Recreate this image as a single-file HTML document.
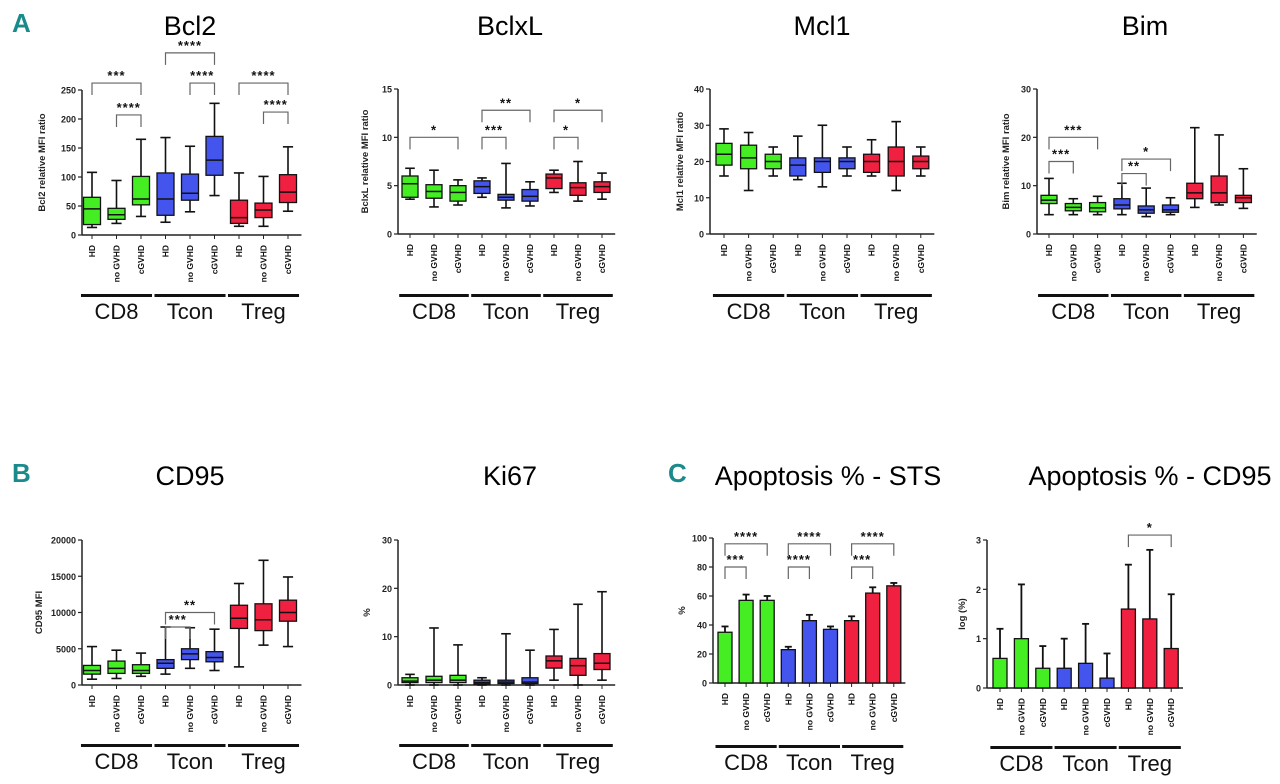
<!DOCTYPE html>
<html><head><meta charset="utf-8">
<style>
html,body{margin:0;padding:0;background:#fff;}
svg{display:block;font-family:"Liberation Sans Narrow","Liberation Sans",sans-serif;}
</style></head>
<body>
<svg id="fig" width="1280" height="784" viewBox="0 0 1280 784"></svg>
<script>
// ---- data ----
const categories = ["HD","no GVHD","cGVHD","HD","no GVHD","cGVHD","HD","no GVHD","cGVHD"];
const groups = ["CD8","Tcon","Treg"];
// box: [low, q1, median, q3, high]
const bcl2Boxes = [[13,18,45,65,108],[20,27,35,46,94],[32,52,62,101,165],[22,34,62,107,168],[40,60,72,105,153],[68,103,129,170,227],[15,20,30,60,107],[15,30,43,55,101],[41,56,74,104,152]];
const bclxlBoxes = [[3.6,3.8,5.2,6.0,6.8],[2.8,3.7,4.4,5.1,6.6],[3.0,3.4,4.3,5.0,5.6],[3.8,4.2,4.9,5.5,5.8],[2.7,3.5,3.8,4.1,7.3],[2.9,3.4,3.9,4.6,5.4],[4.3,4.7,5.8,6.2,6.6],[3.4,4.0,4.8,5.3,7.5],[3.6,4.3,4.9,5.4,6.3]];
const mcl1Boxes = [[16,19,22,25,29],[12,18,21,24.5,28],[16,18,20,22,24],[15,16,19,21,27],[13,17,20,21,30],[16,18,20,21,24],[16,17,20,22,26],[12,16,20,24,31],[16,18,20,21.5,24]];
const bimBoxes = [[4,6.3,7,8,11.5],[4,4.8,5.5,6.3,7.3],[4,4.6,5.4,6.5,7.8],[4,5.2,6,7.3,10.5],[3.6,4.3,5,5.8,9.5],[4,4.5,5,6,7.5],[5.5,7.3,8.5,10.5,22],[6,6.5,8.5,12,20.5],[5.3,6.5,7.5,8,13.5]];
const cd95Boxes = [[800,1500,2000,2700,5300],[900,1600,2300,3300,4800],[1200,1600,2000,2800,4400],[1500,2300,3000,3500,8000],[2300,3500,4300,5000,7900],[2000,3200,3800,4600,7700],[2500,7800,9200,11000,14000],[5500,7500,9000,11200,17200],[5300,8800,10000,11700,14900]];
const ki67Boxes = [[0,0.5,0.8,1.5,2.2],[0,0.5,1,1.8,11.8],[0,0.5,1,2,8.3],[0,0.2,0.5,1,1.5],[0,0.3,0.6,1,10.6],[0,0.3,0.6,1.5,7.2],[1,3.5,5,6,11.5],[0,2,4,5.5,16.7],[1,3.2,4.5,6.5,19.3]];
const stsMeans = [35,57,57,23,43,37,43,62,67];
const stsErr = [39,61,60,25,47,39,46,66,69];
const cd95aMeans = [0.6,1.0,0.4,0.4,0.5,0.2,1.6,1.4,0.8];
const cd95aErr = [1.2,2.1,0.85,1.0,1.3,0.7,2.5,2.8,1.9];
const bcl2Ticks = [0,50,100,150,200,250];
const bclxlTicks = [0,5,10,15];
const mcl1Ticks = [0,10,20,30,40];
const bimTicks = [0,10,20,30];
const cd95Ticks = [0,5000,10000,15000,20000];
const ki67Ticks = [0,10,20,30];
const stsTicks = [0,20,40,60,80,100];
const cd95aTicks = [0,1,2,3];
// brackets: [from, to, value, label]
const bcl2Sig = [[0,2,262,"***"],[1,2,207,"****"],[3,5,314,"****"],[4,5,262,"****"],[6,8,262,"****"],[7,8,212,"****"]];
const bclxlSig = [[0,2,10,"*"],[3,5,12.8,"**"],[3,4,10,"***"],[6,8,12.8,"*"],[6,7,10,"*"]];
const bimSig = [[0,2,20,"***"],[0,1,15,"***"],[3,5,15.5,"*"],[3,4,12.5,"**"]];
const cd95Sig = [[3,5,10000,"**"],[3,4,8000,"***"]];
const stsSig = [[0,2,96,"****"],[0,1,80,"***"],[3,5,96,"****"],[3,4,80,"****"],[6,8,96,"****"],[6,7,80,"***"]];
const cd95aSig = [[6,8,3.1,"*"]];

const colors = ["#44ee22","#44ee22","#44ee22","#4455ee","#4455ee","#4455ee","#f02040","#f02040","#f02040"];
const NS = "http://www.w3.org/2000/svg";
const svg = document.getElementById("fig");
function mk(tag, attrs, parent, text){
  const e = document.createElementNS(NS, tag);
  for (const k in attrs) e.setAttribute(k, attrs[k]);
  if (text !== undefined) e.textContent = text;
  (parent||svg).appendChild(e);
  return e;
}

function panel(cfg){
  const g = mk("g", {});
  
  
  const ticks = cfg.ticks;
  const ymax = ticks[ticks.length-1];
  const y = v => cfg.y0 - (v/ymax)*(cfg.y0-cfg.y1);
  const x = i => cfg.x0 + i*cfg.dx;
  const t = mk("text",{x:cfg.tx,y:cfg.ty,"text-anchor":"middle","font-size":cfg.tfs||27},g,cfg.title);
  
  
  mk("line",{x1:cfg.ax,y1:cfg.y1,x2:cfg.ax,y2:cfg.y0,stroke:"#222","stroke-width":1.5},g);
  const xEnd = x(8)+cfg.dx*0.55;
  mk("line",{x1:cfg.ax,y1:cfg.y0,x2:xEnd,y2:cfg.y0,stroke:"#222","stroke-width":1.5},g);
  ticks.forEach(tv=>{
    mk("line",{x1:cfg.ax-4,y1:y(tv),x2:cfg.ax,y2:y(tv),stroke:"#222","stroke-width":1.2},g);
    const tl = mk("text",{x:cfg.ax-6,y:y(tv)+3.5,"text-anchor":"end","font-size":9,"font-weight":"bold",fill:"#222"},g,String(tv));
    
    
  });
  const yt = mk("text",{x:0,y:0,"text-anchor":"middle","font-size":9.5,"font-weight":"bold",fill:"#222",
    transform:`translate(${cfg.ax-cfg.yto},${(cfg.y0+cfg.y1)/2}) rotate(-90)`},g,cfg.ytitle);
  
  
  const w = cfg.bw;
  for (let i=0;i<9;i++){
    const cx = x(i);
    mk("line",{x1:cx,y1:cfg.y0,x2:cx,y2:cfg.y0+4,stroke:"#222","stroke-width":1},g);
    if (cfg.boxes){
      const b = cfg.boxes[i];
      const bg = mk("g",{},g);
      
      
      mk("line",{x1:cx,y1:y(b[0]),x2:cx,y2:y(b[4]),stroke:"#111","stroke-width":1.6},bg);
      mk("line",{x1:cx-w*0.3,y1:y(b[0]),x2:cx+w*0.3,y2:y(b[0]),stroke:"#111","stroke-width":1.6},bg);
      mk("line",{x1:cx-w*0.3,y1:y(b[4]),x2:cx+w*0.3,y2:y(b[4]),stroke:"#111","stroke-width":1.6},bg);
      mk("rect",{x:cx-w/2,y:y(b[3]),width:w,height:Math.max(1,y(b[1])-y(b[3])),fill:colors[i],stroke:"#111","stroke-width":1.3},bg);
      mk("line",{x1:cx-w/2,y1:y(b[2]),x2:cx+w/2,y2:y(b[2]),stroke:"#111","stroke-width":1.5},bg);
    } else {
      const m = cfg.means[i], e = cfg.errs[i];
      const bg = mk("g",{},g);
      
      
      mk("line",{x1:cx,y1:y(m),x2:cx,y2:y(e),stroke:"#111","stroke-width":1.8},bg);
      mk("line",{x1:cx-w*0.25,y1:y(e),x2:cx+w*0.25,y2:y(e),stroke:"#111","stroke-width":1.8},bg);
      mk("rect",{x:cx-w/2,y:y(m),width:w,height:y(0)-y(m),fill:colors[i],stroke:"#111","stroke-width":1.3},bg);
    }
    const cl = mk("text",{x:0,y:0,"text-anchor":"end","font-size":8.5,"font-weight":"bold",fill:"#111",
      transform:`translate(${cx+3},${cfg.y0+10}) rotate(-90)`},g,categories[i]);
    
    
  }
  for (let k=0;k<3;k++){
    const xa = x(k*3)-cfg.dx*0.45, xb = x(k*3+2)+cfg.dx*0.45;
    const gb = mk("rect",{x:xa,y:cfg.gy,width:xb-xa,height:3,fill:"#111"},g);
    
    
    const gl = mk("text",{x:(xa+xb)/2,y:cfg.gy+25,"text-anchor":"middle","font-size":22,fill:"#111"},g,groups[k]);
    
    
  }
  (cfg.sig||[]).forEach(s=>{
    const xa=x(s[0]), xb=x(s[1]), yy=y(s[2]);
    const sg = mk("g",{},g);
    
    
    mk("polyline",{points:`${xa},${yy+12} ${xa},${yy} ${xb},${yy} ${xb},${yy+12}`,fill:"none",stroke:"#666","stroke-width":1.2},sg);
    mk("text",{x:(xa+xb)/2,y:yy-3,"text-anchor":"middle","font-size":13,"font-weight":"bold",fill:"#111","letter-spacing":1},sg,s[3]);
  });
}

panel({name:"bcl2-panel",title:"Bcl2",tx:190,ty:35,ax:82,y0:235,y1:90,x0:92,dx:24.5,bw:17,ticks:bcl2Ticks,boxes:bcl2Boxes,ytitle:"Bcl2 relative MFI ratio",yto:37,gy:294,sig:bcl2Sig});
panel({name:"bclxl-panel",title:"BclxL",tx:510,ty:35,ax:398,y0:234,y1:89,x0:410,dx:24,bw:16,ticks:bclxlTicks,boxes:bclxlBoxes,ytitle:"BclxL relative MFI ratio",yto:30,gy:294,sig:bclxlSig});
panel({name:"mcl1-panel",title:"Mcl1",tx:822,ty:35,ax:710,y0:234,y1:89,x0:724,dx:24.6,bw:16,ticks:mcl1Ticks,boxes:mcl1Boxes,ytitle:"Mcl1 relative MFI ratio",yto:27,gy:294});
panel({name:"bim-panel",title:"Bim",tx:1145,ty:35,ax:1037,y0:234,y1:89,x0:1049,dx:24.3,bw:16,ticks:bimTicks,boxes:bimBoxes,ytitle:"Bim relative MFI ratio",yto:28,gy:294,sig:bimSig});
panel({name:"cd95-panel",title:"CD95",tx:190,ty:485,ax:82,y0:685,y1:540,x0:92,dx:24.5,bw:17,ticks:cd95Ticks,boxes:cd95Boxes,ytitle:"CD95 MFI",yto:40,gy:744,sig:cd95Sig});
panel({name:"ki67-panel",title:"Ki67",tx:510,ty:485,ax:398,y0:685,y1:540,x0:410,dx:24,bw:16,ticks:ki67Ticks,boxes:ki67Boxes,ytitle:"%",yto:28,gy:744});
panel({name:"sts-panel",title:"Apoptosis % - STS",tx:828,ty:485,ax:713,y0:683,y1:538,x0:725,dx:21.1,bw:14,ticks:stsTicks,means:stsMeans,errs:stsErr,ytitle:"%",yto:28,gy:745,sig:stsSig});
panel({name:"cd95-apoptosis-panel",title:"Apoptosis % - CD95",tx:1150,ty:485,ax:987,y0:688,y1:540,x0:1000,dx:21.4,bw:14,ticks:cd95aTicks,means:cd95aMeans,errs:cd95aErr,ytitle:"log (%)",yto:22,gy:746,sig:cd95aSig});

[["A",12,32],["B",12,482],["C",668,482]].forEach(L=>{
  const e = mk("text",{x:L[1],y:L[2],"font-size":26,"font-weight":"bold",fill:"#1a8a8a"},svg,L[0]);
  
  
});
</script>
</body></html>
